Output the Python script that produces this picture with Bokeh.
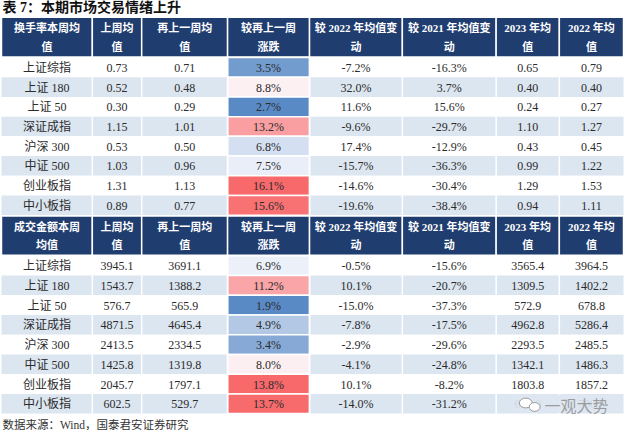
import numpy as np
from bokeh.plotting import figure
from bokeh.models import ColumnDataSource, Range1d
from bokeh.core.properties import value
from bokeh.embed import file_html
from bokeh.resources import INLINE

# ---------------- data ----------------
title = "表 7：本期市场交易情绪上升"
source_note = "数据来源：Wind，国泰君安证券研究"
index_names = ["上证综指", "上证 180", "上证 50", "深证成指", "沪深 300", "中证 500", "创业板指", "中小板指"]

headers_common = ["上周均\n值", "再上一周均\n值", "较再上一周\n涨跌", "较 2022 年均值变\n动",
                  "较 2021 年均值变\n动", "2023 年均\n值", "2022 年均\n值"]
turnover_head = "换手率本周均\n值"
amount_head = "成交金额本周\n均值"

turnover_last = [0.73, 0.52, 0.30, 1.15, 0.53, 1.03, 1.31, 0.89]
turnover_prev = [0.71, 0.48, 0.29, 1.01, 0.50, 0.96, 1.13, 0.77]
turnover_chg = [3.5, 8.8, 2.7, 13.2, 6.8, 7.5, 16.1, 15.6]
turnover_vs2022 = [-7.2, 32.0, 11.6, -9.6, 17.4, -15.7, -14.6, -19.6]
turnover_vs2021 = [-16.3, 3.7, 15.6, -29.7, -12.9, -36.3, -30.4, -38.4]
turnover_2023 = [0.65, 0.40, 0.24, 1.10, 0.43, 0.99, 1.29, 0.94]
turnover_2022 = [0.79, 0.40, 0.27, 1.27, 0.45, 1.22, 1.53, 1.11]

amount_last = [3945.1, 1543.7, 576.7, 4871.5, 2413.5, 1425.8, 2045.7, 602.5]
amount_prev = [3691.1, 1388.2, 565.9, 4645.4, 2334.5, 1319.8, 1797.1, 529.7]
amount_chg = [6.9, 11.2, 1.9, 4.9, 3.4, 8.0, 13.8, 13.7]
amount_vs2022 = [-0.5, 10.1, -15.0, -7.8, -2.9, -4.1, 10.1, -14.0]
amount_vs2021 = [-15.6, -20.7, -37.3, -17.5, -29.6, -24.8, -8.2, -31.2]
amount_2023 = [3565.4, 1309.5, 572.9, 4962.8, 2293.5, 1342.1, 1803.8, 650.0]   # last value hidden by watermark (estimate)
amount_2022 = [3964.5, 1402.2, 678.8, 5286.4, 2485.5, 1486.3, 1857.2, 700.6]   # last value hidden by watermark (estimate)

# ---------------- layout / style ----------------
COL_EDGES = [5, 97, 147, 234, 317, 411, 506, 570, 635]
ROW_H = 20.1
NAVY = "#1f3d6f"
LIGHT = "#dce6f1"
TXT = "#2b2b2b"
FONT = "Liberation Serif, Noto Sans CJK SC"

p = figure(width=624, height=430, x_range=Range1d(4, 636), y_range=Range1d(442, 4),
           output_backend="svg", toolbar_location=None, min_border=0,
           x_axis_type=None, y_axis_type=None)
p.grid.visible = False
p.outline_line_color = None
p.background_fill_color = "white"
p.border_fill_color = "white"


def mix(c1, c2, t):
    a = [int(c1[i:i + 2], 16) for i in (1, 3, 5)]
    b = [int(c2[i:i + 2], 16) for i in (1, 3, 5)]
    return "#%02x%02x%02x" % tuple(int(round(a[k] + (b[k] - a[k]) * t)) for k in range(3))


def heat_colors(vals):
    lo, hi, med = min(vals), max(vals), float(np.median(vals))
    out = []
    for v in vals:
        if v <= med:
            out.append(mix("#fcfcff", "#5a8ac6", (med - v) / (med - lo) if med > lo else 0))
        else:
            out.append(mix("#fcfcff", "#f8696b", (v - med) / (hi - med) if hi > med else 0))
    return out


def draw_table(head_top, head_bot, row0, first_head, cols, fmts, chg):
    heads = [first_head] + headers_common
    p.quad(left=COL_EDGES[:-1], right=COL_EDGES[1:], top=[head_top] * 8, bottom=[head_bot] * 8,
           fill_color=NAVY, line_color="white", line_width=1.5)
    hx, hy, ht = [], [], []
    for i, h in enumerate(heads):
        lines = h.split("\n")
        cx = (COL_EDGES[i] + COL_EDGES[i + 1]) / 2
        for j, ln in enumerate(lines):
            hx.append(cx)
            hy.append(head_top + 11.5 + j * 18.5)
            ht.append(ln)
    p.text(x=hx, y=hy, text=ht, text_color="white", text_font=value(FONT), text_font_size="11px",
           text_font_style="bold", text_align="center", text_baseline="middle")

    n = len(index_names)
    tops = [row0 + i * ROW_H for i in range(n)]
    bots = [t + ROW_H for t in tops]
    fills = ["white" if i % 2 == 0 else LIGHT for i in range(n)]
    p.quad(left=[COL_EDGES[0]] * n, right=[COL_EDGES[-1]] * n, top=tops, bottom=bots,
           fill_color=fills, line_color=None)
    p.quad(left=[COL_EDGES[3]] * n, right=[COL_EDGES[4]] * n, top=tops, bottom=bots,
           fill_color=heat_colors(chg), line_color="white", line_width=1.5)
    for e in COL_EDGES[1:-1]:
        p.segment(x0=e, y0=row0, x1=e, y1=bots[-1], line_color="white", line_width=1.5)

    tx, ty, tt = [], [], []
    all_cols = [index_names] + cols
    for c, colvals in enumerate(all_cols):
        cx = (COL_EDGES[c] + COL_EDGES[c + 1]) / 2
        for r, v in enumerate(colvals):
            tx.append(cx)
            ty.append(tops[r] + ROW_H / 2 + 0.5)
            tt.append(v if c == 0 else fmts[c - 1].format(v))
    src = ColumnDataSource(dict(x=tx, y=ty, t=tt))
    p.text(x="x", y="y", text="t", source=src, text_color=TXT, text_font=value(FONT),
           text_font_size="12px", text_align="center", text_baseline="middle")
    return tops, bots


tfmt = ["{:.2f}", "{:.2f}", "{:.1f}%", "{:.1f}%", "{:.1f}%", "{:.2f}", "{:.2f}"]
afmt = ["{:.1f}", "{:.1f}", "{:.1f}%", "{:.1f}%", "{:.1f}%", "{:.1f}", "{:.1f}"]

draw_table(21, 61.5, 62, turnover_head,
           [turnover_last, turnover_prev, turnover_chg, turnover_vs2022, turnover_vs2021,
            turnover_2023, turnover_2022], tfmt, turnover_chg)
tops2, bots2 = draw_table(223.5, 263.5, 264, amount_head,
                          [amount_last, amount_prev, amount_chg, amount_vs2022, amount_vs2021,
                           amount_2023, amount_2022], afmt, amount_chg)

p.text(x=[6], y=[11], text=[title], text_color="#111111", text_font=value(FONT), text_font_size="14px",
       text_font_style="bold", text_align="left", text_baseline="middle")
p.text(x=[6], y=[436], text=[source_note], text_color="#333333", text_font=value(FONT),
       text_font_size="11.5px", text_align="left", text_baseline="middle")

# watermark over the last row
p.quad(left=[522], right=[634], top=[tops2[-1] + 1], bottom=[bots2[-1] - 1], fill_color=LIGHT,
       fill_alpha=0.92, line_color=None)
p.ellipse(x=[536, 545], y=[414, 418], width=[13, 11], height=[10, 9], fill_color="white",
          line_color="#9a9a9a", line_width=1)
p.text(x=[555], y=[416], text=["一观大势"], text_color="#8f8f8f", text_font=value("Noto Sans CJK SC"),
       text_font_size="16px", text_align="left", text_baseline="middle", text_alpha=0.85)

open("out.html", "w").write(file_html(p, INLINE))
